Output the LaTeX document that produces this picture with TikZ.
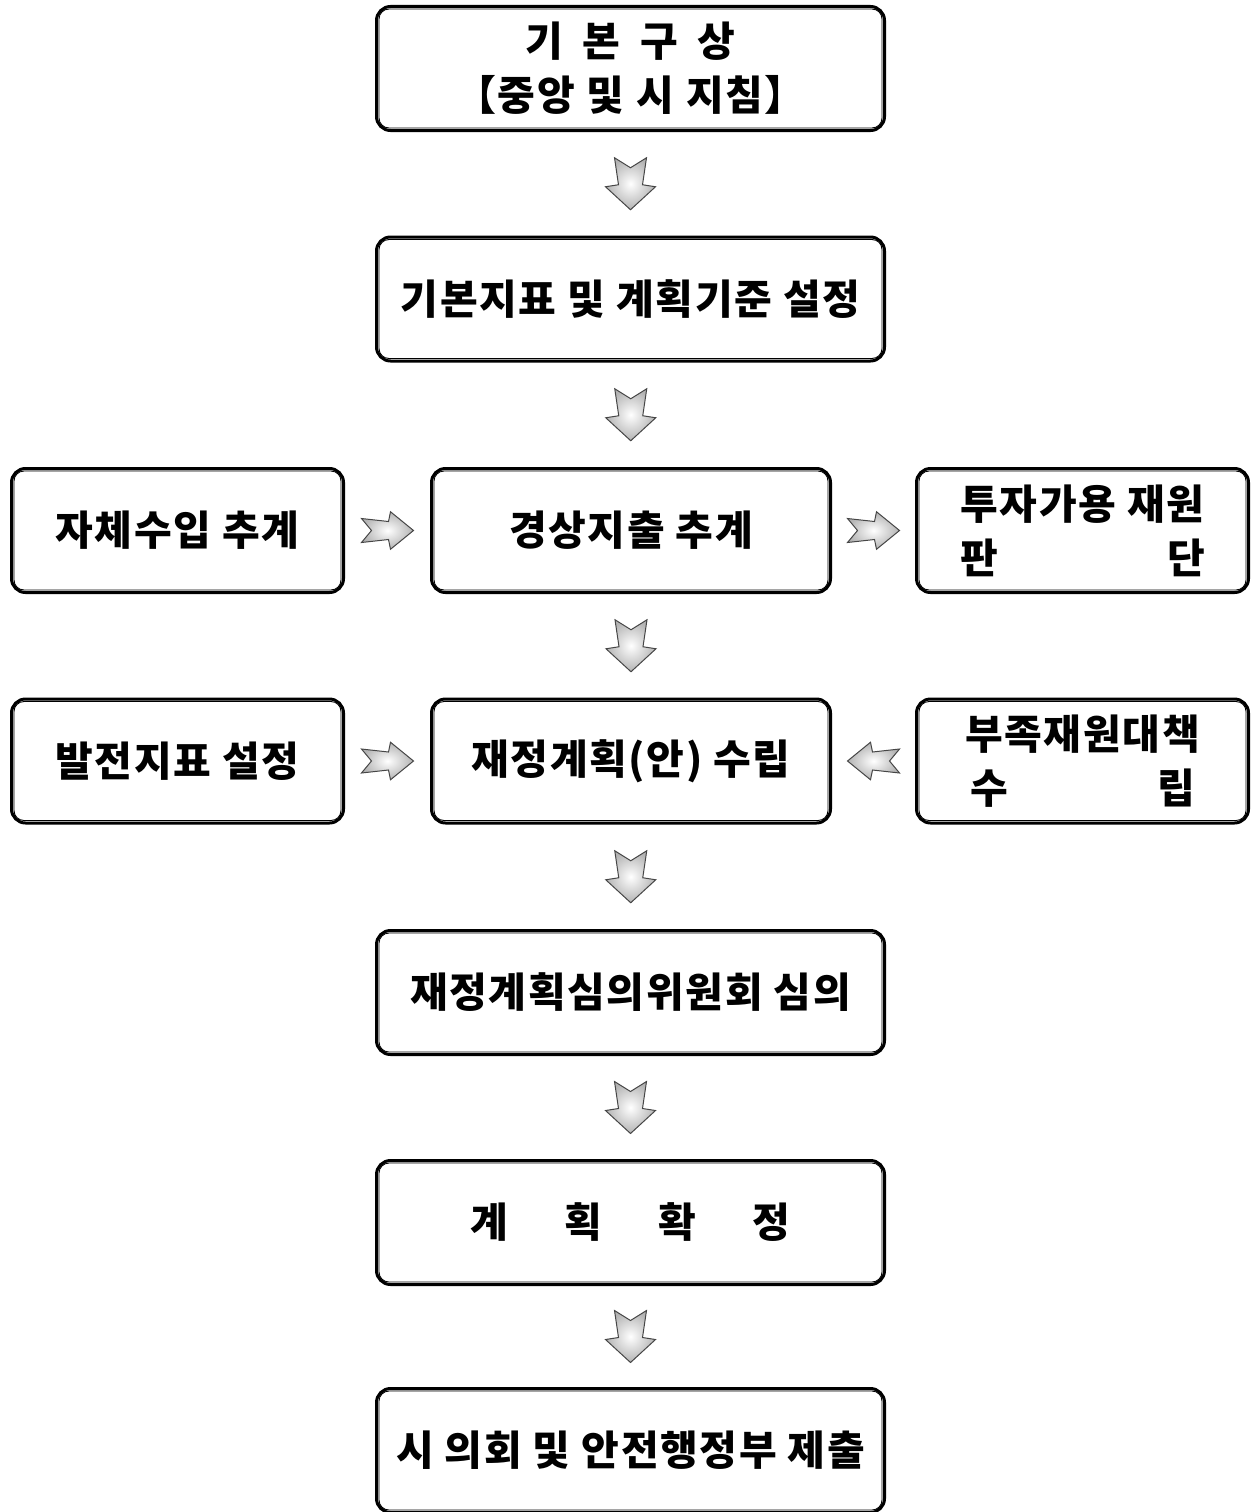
\documentclass[tikz,border=0pt]{standalone}
\usepackage{fontspec}
\setmainfont{Noto Sans CJK KR}[LetterSpace=4]
\usetikzlibrary{calc}
\tikzset{
  box/.style={draw, line width=3pt, rounded corners=14pt, inner sep=0pt, align=center,
    font=\bfseries\fontsize{41}{54}\selectfont},
  wide/.style={box, minimum width=508pt, minimum height=124pt},
  side/.style={box, minimum width=332pt, minimum height=124pt},
  mid/.style={box, minimum width=399pt, minimum height=124pt},
  innerline/.style={line width=0.9pt, rounded corners=10pt},
  arrowsty/.style={draw=gray!55!black, line width=1pt, shading=radial, inner color=white, outer color=gray!60},
  pics/barrow/.style={code={
    \path[arrowsty] (-16,-26) -- (0,-16) -- (16,-26) -- (12,1) -- (25,3) -- (0,26) -- (-25,3) -- (-12,1) -- cycle;}}
}
\begin{document}
\begin{tikzpicture}[x=1pt,y=-1pt]
\useasboundingbox (0,0) rectangle (1255,1512);
\node[wide] (b1) at (630.5,68.5) {\makebox[210pt][s]{기\hfill 본\hfill 구\hfill 상}\\【중앙\hspace{12pt}및\hspace{12pt}시\hspace{12pt}지침】};
\node[wide] (b2) at (630.5,299) {기본지표 및 계획기준 설정};
\node[side] (l3) at (177.5,530.5) {자체수입 추계};
\node[mid]  (m3) at (631,530.5) {경상지출 추계};
\node[side] (r3) at (1082.5,530.5) {투자가용 재원\\\makebox[245pt][s]{판\hfill 단}};
\node[side] (l4) at (177.5,761) {발전지표 설정};
\node[mid]  (m4) at (631,761) {재정계획(안) 수립};
\node[side] (r4) at (1082.5,761) {부족재원대책\\\makebox[225pt][s]{수\hfill 립}};
\node[wide] (b5) at (630.5,992.5) {재정계획심의위원회 심의};
\node[wide] (b6) at (630.5,1222.5) {\makebox[320pt][s]{계\hfill 획\hfill 확\hfill 정}};
\node[wide] (b7) at (630.5,1450.5) {시 의회 및 안전행정부 제출};
\foreach \n in {b1,b2,l3,m3,r3,l4,m4,r4,b5,b6,b7}
  \draw[innerline] ([shift={(4,4)}]\n.north west) rectangle ([shift={(-4,-4)}]\n.south east);
\pic at ($(b1.south)!0.5!(b2.north)$) {barrow};
\pic at ($(b2.south)!0.5!(m3.north)$) {barrow};
\pic at ($(m3.south)!0.5!(m4.north)$) {barrow};
\pic at ($(m4.south)!0.5!(b5.north)$) {barrow};
\pic at ($(b5.south)!0.5!(b6.north)$) {barrow};
\pic at ($(b6.south)!0.5!(b7.north)$) {barrow};
\pic[rotate=90, xscale=0.75] at ($(l3.east)!0.5!(m3.west)$) {barrow};
\pic[rotate=90, xscale=0.75] at ($(m3.east)!0.5!(r3.west)$) {barrow};
\pic[rotate=90, xscale=0.75] at ($(l4.east)!0.5!(m4.west)$) {barrow};
\pic[rotate=-90, xscale=0.75] at ($(r4.west)!0.5!(m4.east)$) {barrow};
\end{tikzpicture}
\end{document}
